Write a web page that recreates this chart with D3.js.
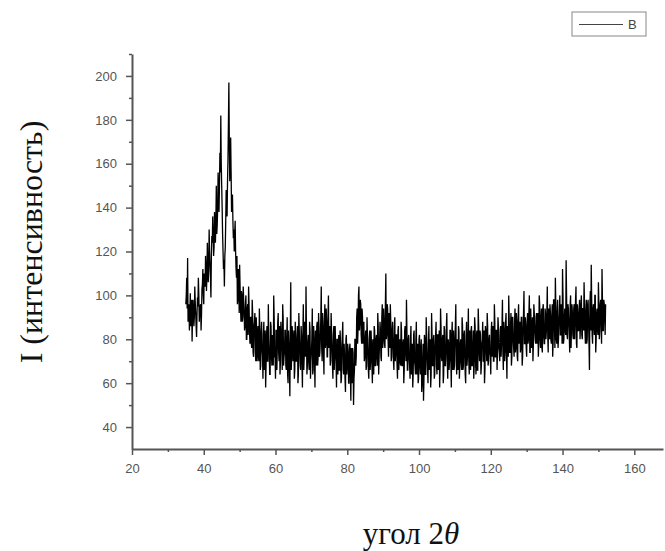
<!DOCTYPE html>
<html>
<head>
<meta charset="utf-8">
<script src="https://cdn.jsdelivr.net/npm/d3@7"></script>
<style>
  body { margin: 0; background: #fff; }
</style>
</head>
<body>
<div id="chart"></div>
<script>
const layout = {
    width: 665,
    height: 551,
    marginLeft: 132,
    plotRight: 663,
    plotTop: 54,
    plotBottom: 449
  };

// diffraction pattern, every 0.25 degree (from 35.0)
const angleStart = 35;
const angleStep = 0.25;
const intensity = [
  96, 108, 117, 90, 84, 101, 93, 79,  98, 86, 104, 92, 81, 99, 108, 88,
  95, 84, 103, 112, 96, 108, 118, 102,  124, 106, 130, 114, 99, 127, 136, 118,
  138, 124, 150, 132, 156, 138, 165, 182,
  150, 128, 112, 104, 122, 148, 136, 162,  197, 152, 172, 138, 146, 126, 120, 134,
  112, 118, 98, 108, 114, 94, 102, 88,  104, 92, 86, 100, 80, 96, 104, 84,
  90, 78, 98, 74, 86, 92, 70, 84,
  80, 72, 94, 66, 84, 76, 62, 88,  78, 58, 82, 70, 96, 74, 64, 86,
  68, 80, 100, 72, 62, 84, 76, 92,  70, 64, 88, 78, 96, 68, 74, 84,
  66, 90, 60, 78, 54, 106, 72, 82,
  74, 62, 88, 70, 80, 60, 92, 76,  66, 82, 58, 96, 72, 84, 104, 64,
  78, 70, 88, 62, 74, 94, 66, 80,  58, 76, 86, 68, 92, 72, 80, 104,
  70, 86, 64, 96, 78, 88, 72, 100,
  84, 68, 92, 76, 62, 86, 72, 78,  58, 80, 70, 66, 84, 60, 76, 88,
  64, 72, 56, 82, 68, 74, 60, 78,  52, 70, 76, 50, 66, 80, 72, 94,
  84, 104, 88, 96, 78, 90, 82, 70,
  80, 66, 90, 74, 62, 84, 70, 78,  60, 76, 86, 68, 80, 72, 92, 64,
  78, 84, 70, 96, 80, 88, 76, 110,  82, 94, 72, 88, 96, 70, 84, 78,
  66, 90, 74, 82, 62, 86, 76, 70,
  88, 68, 78, 60, 84, 74, 98, 66,  80, 72, 62, 86, 76, 58, 82, 70,
  64, 88, 74, 60, 80, 68, 76, 56,  70, 52, 82, 64, 90, 72, 60, 86,
  74, 58, 92, 68, 80, 62, 76, 88,
  64, 82, 70, 58, 94, 72, 80, 60,  86, 68, 74, 92, 62, 78, 70, 84,
  58, 88, 72, 66, 80, 96, 64, 76,  86, 62, 78, 70, 90, 66, 82, 74,
  60, 88, 72, 94, 64, 78, 84, 68,
  76, 62, 90, 70, 82, 66, 94, 74,  84, 64, 78, 88, 70, 60, 86, 76,
  92, 68, 80, 74, 64, 88, 78, 70,  96, 72, 84, 66, 90, 76, 70, 86,
  78, 98, 66, 84, 74, 92, 62, 80,
  100, 74, 86, 68, 90, 80, 72, 94,  76, 88, 70, 96, 82, 74, 90, 68,
  84, 102, 78, 86, 72, 92, 80, 100,  74, 88, 82, 70, 96, 84, 78, 92,
  86, 72, 100, 80, 90, 76, 94, 82,
  78, 92, 84, 104, 74, 88, 96, 80,  90, 72, 98, 86, 108, 80, 92, 76,
  88, 100, 82, 94, 112, 78, 90, 84,  116, 82, 96, 88, 74, 100, 86, 92,
  80, 96, 88, 104, 76, 92, 84, 98,
  86, 100, 80, 94, 106, 84, 92, 78,  96, 88, 66, 102, 114, 82, 94, 86,
  100, 74, 92, 84, 106, 80, 96, 88,  112, 84, 98, 90, 96
];

// in-between readings (35.125, 35.375, ...) that fill the dark core of the band
const midStart = 35.125;
const intensityMid = [
  100, 94, 88, 96, 92, 86, 98, 90,  94, 90, 97, 86, 92, 95, 100, 92,
  96, 91, 105, 100, 110, 104, 112, 108,  114, 112, 120, 108, 118, 124, 128, 122,
  130, 134, 128, 140, 146, 150, 156, 160,
  140, 120, 116, 118, 134, 140, 152, 178,  170, 160, 156, 144, 134, 130, 128, 120,
  108, 96, 112, 92, 104, 88, 100, 90,  98, 84, 96, 80, 94, 82, 96, 78,
  90, 76, 92, 72, 88, 74, 90, 70,
  86, 70, 84, 68, 88, 72, 82, 66,  84, 68, 86, 70, 80, 64, 88, 72,
  82, 68, 90, 72, 84, 66, 88, 74,  86, 70, 82, 66, 90, 72, 84, 68,
  80, 64, 84, 68, 82, 66, 86, 70,
  84, 66, 82, 70, 86, 64, 84, 68,  86, 70, 82, 66, 88, 72, 84, 68,
  82, 66, 84, 70, 80, 64, 86, 70,  84, 68, 88, 72, 86, 74, 90, 76,
  92, 74, 88, 76, 94, 72, 90, 76,
  86, 70, 84, 68, 82, 66, 86, 70,  80, 64, 82, 66, 78, 62, 82, 66,
  78, 62, 80, 64, 78, 60, 76, 64,  76, 60, 74, 62, 80, 68, 90, 78,
  100, 84, 98, 82, 94, 78, 88, 72,
  84, 68, 82, 66, 80, 66, 84, 68,  80, 64, 84, 68, 82, 68, 86, 72,
  88, 72, 90, 76, 94, 78, 96, 80,  96, 80, 92, 76, 88, 72, 88, 70,
  86, 70, 82, 68, 84, 66, 80, 68,
  84, 68, 80, 66, 86, 70, 84, 66,  82, 68, 80, 64, 78, 64, 84, 68,
  80, 64, 78, 62, 82, 64, 80, 60,  78, 62, 80, 64, 82, 66, 78, 66,
  80, 64, 82, 68, 82, 64, 82, 68,
  82, 66, 84, 68, 86, 70, 82, 64,  84, 68, 86, 70, 80, 66, 84, 70,
  82, 66, 84, 68, 86, 70, 80, 66,  84, 68, 80, 66, 86, 68, 84, 64,
  82, 68, 80, 70, 84, 66, 86, 68,
  84, 68, 86, 64, 84, 66, 86, 70,  82, 68, 80, 70, 84, 66, 84, 70,
  86, 70, 82, 72, 84, 72, 86, 70,  88, 72, 84, 74, 86, 74, 84, 72,
  86, 74, 88, 70, 88, 74, 86, 72,
  90, 74, 92, 72, 90, 76, 88, 74,  92, 72, 90, 78, 88, 76, 90, 72,
  92, 78, 90, 76, 88, 78, 92, 74,  94, 76, 90, 78, 92, 80, 90, 78,
  92, 78, 96, 76, 94, 74, 96, 78,
  94, 80, 92, 82, 94, 80, 92, 78,  96, 78, 98, 76, 96, 78, 98, 80,
  94, 82, 96, 78, 100, 80, 94, 82,  100, 80, 94, 82, 96, 76, 96, 82,
  94, 80, 98, 78, 96, 84, 94, 80,
  96, 82, 94, 84, 96, 78, 98, 80,  98, 78, 96, 84, 98, 78, 96, 82,
  100, 80, 94, 82, 96, 84, 98, 78,  98, 84, 96, 82
];

const xDomain = [20, 168];
const yDomain = [30, 210];
const xMajorTicks = [20, 40, 60, 80, 100, 120, 140, 160];
const xMinorTicks = [30, 50, 70, 90, 110, 130, 150];
const yMajorTicks = [40, 60, 80, 100, 120, 140, 160, 180, 200];
const yMinorTicks = [50, 70, 90, 110, 130, 150, 170, 190, 210];
const seriesName = "B";
const xTitle = "угол 2";
const xTitleSymbol = "θ";
const yTitle = "I (интенсивность)";

let svg = d3.select("#chart").append("svg")
    .attr("width", layout.width)
    .attr("height", layout.height)
    .attr("viewBox", [0, 0, layout.width, layout.height].join(" "));

let xScale = d3.scaleLinear().domain(xDomain).range([layout.marginLeft, layout.plotRight]);
let yScale = d3.scaleLinear().domain(yDomain).range([layout.plotBottom, layout.plotTop]);

let points = intensity.map((v, i) => ({angle: angleStart + i * angleStep, value: v}))
    .concat(intensityMid.map((v, i) => ({angle: midStart + i * angleStep, value: v})))
    .sort((a, b) => a.angle - b.angle);

// the trace
svg.append("path")
    .datum(points)
    .attr("fill", "none")
    .attr("stroke", "#000")
    .attr("stroke-width", 1.3)
    .attr("d", d3.line()
        .x(d => xScale(d.angle))
        .y(d => yScale(d.value)));

// axes
const axisColor = "#555";
function styleAxis(g) {
    g.selectAll(".domain").attr("stroke", axisColor).attr("stroke-width", 2);
    g.selectAll("line").attr("stroke", axisColor).attr("stroke-width", 1.5);
    g.selectAll("text")
        .attr("fill", "#555")
        .attr("font-family", "Liberation Sans, Arial, sans-serif")
        .attr("font-size", 13);
}

svg.append("g")
    .attr("transform", `translate(0,${layout.plotBottom})`)
    .call(d3.axisBottom(xScale).tickValues(xMinorTicks).tickSize(3).tickFormat(""))
    .call(g => g.select(".domain").remove())
    .call(styleAxis);
svg.append("g")
    .attr("transform", `translate(0,${layout.plotBottom})`)
    .call(d3.axisBottom(xScale).tickValues(xMajorTicks).tickSize(6).tickPadding(9).tickSizeOuter(0))
    .call(styleAxis);

svg.append("g")
    .attr("transform", `translate(${layout.marginLeft},0)`)
    .call(d3.axisLeft(yScale).tickValues(yMinorTicks).tickSize(3).tickFormat(""))
    .call(g => g.select(".domain").remove())
    .call(styleAxis);
svg.append("g")
    .attr("transform", `translate(${layout.marginLeft},0)`)
    .call(d3.axisLeft(yScale).tickValues(yMajorTicks).tickSize(6).tickPadding(9).tickSizeOuter(0))
    .call(styleAxis);

// axis titles
let xLabel = svg.append("text")
    .attr("x", 411)
    .attr("y", 544)
    .attr("text-anchor", "middle")
    .attr("font-family", "Liberation Serif, Times New Roman, serif")
    .attr("font-size", 31)
    .attr("fill", "#111");
xLabel.append("tspan").text(xTitle);
xLabel.append("tspan").attr("font-style", "italic").text(xTitleSymbol);

svg.append("text")
    .attr("transform", `translate(42,242) rotate(-90)`)
    .attr("text-anchor", "middle")
    .attr("font-family", "Liberation Serif, Times New Roman, serif")
    .attr("font-size", 32)
    .attr("fill", "#111")
    .text(yTitle);

// legend
let legend = svg.append("g").attr("transform", "translate(572,12)");
legend.append("rect")
    .attr("width", 74)
    .attr("height", 24)
    .attr("fill", "#fff")
    .attr("stroke", "#888")
    .attr("stroke-width", 1);
legend.append("line")
    .attr("x1", 7).attr("x2", 51)
    .attr("y1", 12.5).attr("y2", 12.5)
    .attr("stroke", "#444")
    .attr("stroke-width", 1);
legend.append("text")
    .attr("x", 56)
    .attr("y", 17)
    .attr("font-family", "Liberation Sans, Arial, sans-serif")
    .attr("font-size", 13)
    .attr("fill", "#444")
    .text(seriesName);
</script>
</body>
</html>
